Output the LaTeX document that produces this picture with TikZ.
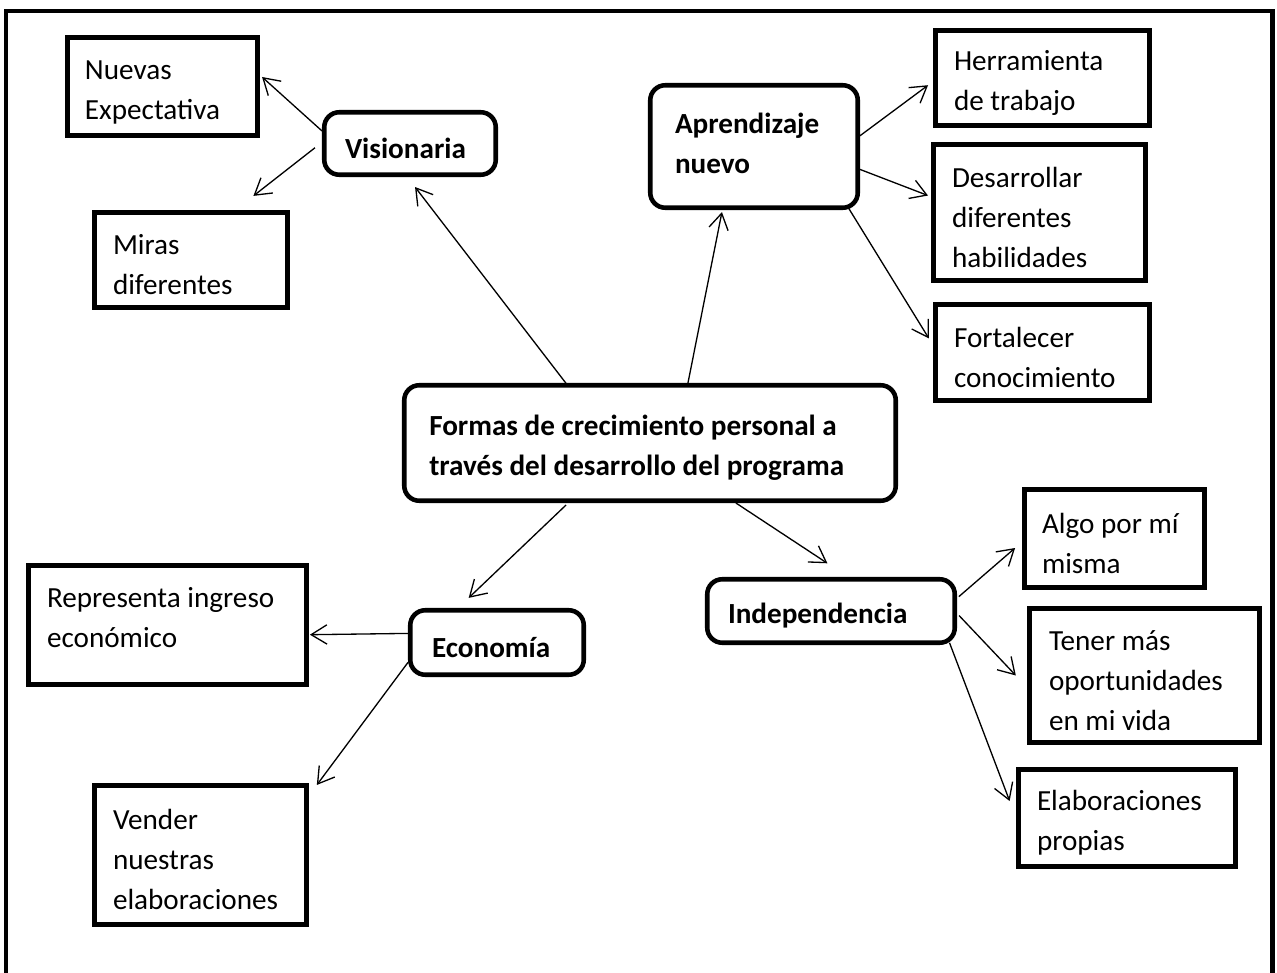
\documentclass[tikz,border=0pt]{standalone}
\usepackage{fontspec}
\setmainfont{Carlito}
\usetikzlibrary{positioning, arrows.meta}

\begin{document}
\begin{tikzpicture}[
    every node/.style={align=flush left, inner sep=0pt, outer sep=0pt, text height=0.6cm, font=\fontsize{16.6pt}{22.8pt}\selectfont},
    rama/.style={draw, rectangle, line width=2.6pt, fill=white},
    tema/.style={draw, rectangle, rounded corners=0.3cm, line width=2.6pt, fill=white, font=\fontsize{16.6pt}{22.8pt}\selectfont\bfseries},
    flecha/.style={-{Straight Barb[length=9pt, width=11pt]}, line width=0.75pt},
    marco/.style={draw, line width=2.8pt},
]
\useasboundingbox (0,0) rectangle (25.54,-19.46);
% Outer frame (open at the bottom)
\draw[marco] (0.12,-19.46) |- (25.45,-0.22) -- (25.45,-19.46);
% Central topic
\node[tema, minimum width=9.83cm, minimum height=2.31cm, text width=8.83cm] (central) at (13.00,-8.86) {Formas de crecimiento personal a\\ través del desarrollo del programa};
% Main branches
\node[tema, minimum width=3.43cm, minimum height=1.25cm, text width=2.60cm] (vis) at (8.20,-2.87) {Visionaria};
\node[tema, minimum width=4.15cm, minimum height=2.45cm, text width=3.16cm, text height=0.3cm] (aprend) at (15.08,-2.93) {Aprendizaje\\ nuevo};
\node[tema, minimum width=3.47cm, minimum height=1.29cm, text width=2.60cm] (econ) at (9.94,-12.85) {Economía};
\node[tema, minimum width=4.95cm, minimum height=1.27cm, text width=4.12cm] (indep) at (16.62,-12.22) {Independencia};
% Leaves
\node[rama, minimum width=3.81cm, minimum height=1.97cm, text width=3.10cm] (nuevas) at (3.25,-1.73) {Nuevas\\ Expectativa};
\node[rama, minimum width=3.87cm, minimum height=1.91cm, text width=3.12cm] (miras) at (3.82,-5.20) {Miras\\ diferentes};
\node[rama, minimum width=4.29cm, minimum height=1.91cm, text width=3.54cm] (herr) at (20.85,-1.56) {Herramienta\\ de trabajo};
\node[rama, minimum width=4.25cm, minimum height=2.73cm, text width=3.50cm] (desa) at (20.79,-4.25) {Desarrollar\\ diferentes\\ habilidades};
\node[rama, minimum width=4.29cm, minimum height=1.93cm, text width=3.54cm] (fort) at (20.85,-7.05) {Fortalecer\\ conocimiento};
\node[rama, minimum width=5.57cm, minimum height=2.39cm, text width=4.82cm, text height=0.1cm] (repr) at (3.35,-12.50) {Representa ingreso\\ económico};
\node[rama, minimum width=4.25cm, minimum height=2.79cm, text width=3.50cm] (vender) at (4.01,-17.10) {Vender\\ nuestras\\ elaboraciones};
\node[rama, minimum width=3.61cm, minimum height=1.97cm, text width=2.90cm] (algo) at (22.29,-10.77) {Algo por mí\\ misma};
\node[rama, minimum width=4.61cm, minimum height=2.69cm, text width=3.82cm] (tener) at (22.89,-13.51) {Tener más\\ oportunidades\\ en mi vida};
\node[rama, minimum width=4.35cm, minimum height=1.95cm, text width=3.60cm] (elab) at (22.54,-16.36) {Elaboraciones\\ propias};
% Arrows
\draw[flecha, shorten <=1.7pt, shorten >=3.3pt] (vis.173.7) -- (nuevas.8);
\draw[flecha, shorten <=6.7pt, shorten >=15.1pt] (vis.178.2) -- (miras.49.4);
\draw[flecha, shorten >=8.8pt] (central.145.9) -- (vis.262.3);
\draw[flecha, shorten >=2.5pt] (central.57) -- (aprend.243.8);
\draw[flecha, shorten <=1.6pt, shorten >=5.1pt] (aprend.5.45) -- (herr.181.5);
\draw[flecha, shorten <=1.4pt, shorten >=3.2pt] (aprend.348.8) -- (desa.172.9);
\draw[flecha, shorten >=6.9pt] (aprend.327.4) -- (fort.178.9);
\draw[flecha, shorten <=3.5pt, shorten >=10.2pt] (central.216.7) -- (econ.142.6);
\draw[flecha, shorten <=2.3pt, shorten >=16.5pt] (central.325.7) -- (indep.57.7);
\draw[flecha, shorten <=1.3pt, shorten >=1.8pt] (econ.174.4) -- (repr.356.3);
\draw[flecha, shorten <=2.1pt, shorten >=9.6pt] (econ.191.4) -- (vender.28.8);
\draw[flecha, shorten <=3.1pt, shorten >=6.9pt] (indep.5.7) -- (algo.181.1);
\draw[flecha, shorten <=3.6pt, shorten >=11.1pt] (indep.0.3) -- (tener.187.9);
\draw[flecha, shorten >=13.8pt] (indep.345.3) -- (elab.183.5);
\end{tikzpicture}
\end{document}
